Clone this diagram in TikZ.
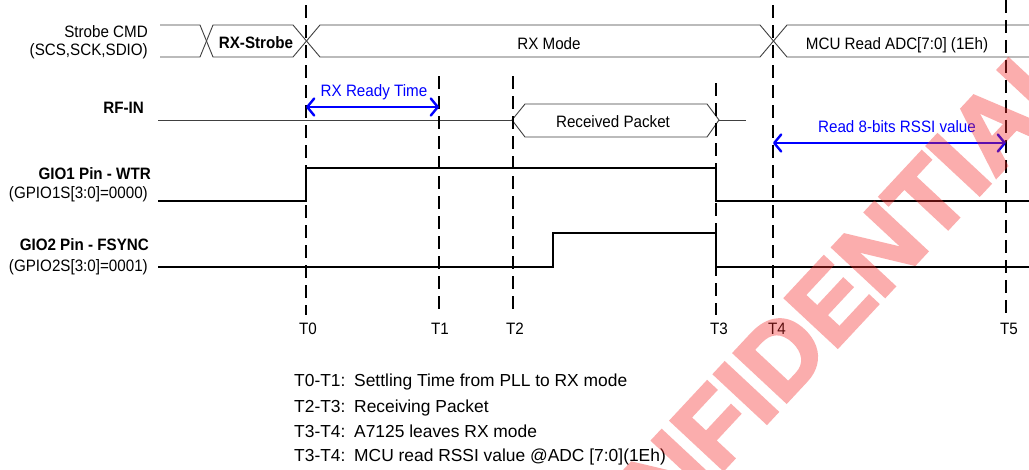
\documentclass[tikz,border=0pt]{standalone}
\usepackage{fontspec}
\setmainfont{Liberation Sans}[FakeStretch=0.92]
\newfontfamily\legendfont{Liberation Sans}
\newfontfamily\wmfont{Liberation Sans Bold}[FakeBold=3]
\usetikzlibrary{arrows.meta}
\definecolor{wmred}{RGB}{245,40,40}
\begin{document}
\begin{tikzpicture}[x=1pt,y=-1pt,
  bus/.style={draw=black!75, line width=0.9pt},
  sig/.style={draw=black, line width=2.6pt},
  tline/.style={draw=black, line width=2.2pt, dash pattern=on 13pt off 7pt},
  span/.style={draw=blue, line width=2.4pt,
    {Straight Barb[length=7pt,width=17pt,round]}-{Straight Barb[length=7pt,width=17pt,round]}},
  lbl/.style={font=\fontsize{16.5}{18}\selectfont, inner sep=0pt},
  blbl/.style={lbl, font=\fontsize{16.5}{18}\selectfont\bfseries},
  bluelbl/.style={lbl, text=blue},
  leg/.style={inner sep=0pt, anchor=base west, font=\legendfont\fontsize{17.4}{19}\selectfont},
  tlbl/.style={lbl, anchor=base}
]
\useasboundingbox (0,0) rectangle (1029,469);
\fill[white] (0,0) rectangle (1029,469);

% time coordinates
\coordinate (t0top) at (306,5);   \coordinate (t0bot) at (306,315);
\coordinate (t1top) at (439,76);  \coordinate (t1bot) at (439,315);
\coordinate (t2top) at (513,76);  \coordinate (t2bot) at (513,315);
\coordinate (t3top) at (716,83);  \coordinate (t3bot) at (716,315);
\coordinate (t4top) at (773,5);   \coordinate (t4bot) at (773,315);
\coordinate (t5top) at (1006,0);  \coordinate (t5bot) at (1006,315);

% Strobe CMD bus
\path[bus] (160,25) -- (200,25) -- (213,57) -- (293,57) -- (320,25) -- (760,25) -- (787,57) -- (1029,57);
\path[bus] (160,57) -- (200,57) -- (213,25) -- (293,25) -- (320,57) -- (760,57) -- (787,25) -- (1029,25);

% RF-IN
\path[bus] (158,120) -- (512,120);
\path[bus] (512,120) -- (525,104) -- (707,104) -- (719,120) -- (707,137) -- (525,137) -- cycle;
\path[bus] (719,120) -- (746,120);

% GIO signals
\path[sig] (158,201) -- (306,201) -- (306,168) -- (716,168) -- (716,201) -- (1029,201);
\path[sig] (158,267) -- (553,267) -- (553,233) -- (716,233) -- (716,267) -- (1029,267);

% dashed time lines
\foreach \t in {0,...,5} { \path[tline] (t\t top) -- (t\t bot); }

% spans
\coordinate (ra) at (306,107); \coordinate (rb) at (439,107);
\coordinate (sa) at (773,143); \coordinate (sb) at (1006,143);
\draw[span] (ra) -- (rb);
\draw[span] (sa) -- (sb);

% left labels
\node[lbl, anchor=base east] (l1) at (148,37) {Strobe CMD};
\node[lbl, anchor=base east] (l2) at (148,55) {(SCS,SCK,SDIO)};
\node[blbl, anchor=base east] (l3) at (144,113) {RF-IN};
\node[blbl, anchor=base east] (l4) at (151,179) {GIO1 Pin - WTR};
\node[lbl, anchor=base east] (l5) at (148,198) {(GPIO1S[3:0]=0000)};
\node[blbl, anchor=base east] (l6) at (149,250) {GIO2 Pin - FSYNC};
\node[lbl, anchor=base east] (l7) at (148,271) {(GPIO2S[3:0]=0001)};

% bus texts
\node[blbl, anchor=base] (s1) at (256,48) {RX-Strobe};
\node[lbl, anchor=base] (s2) at (549,49) {RX Mode};
\node[lbl, anchor=base] (s3) at (897,49) {MCU Read ADC[7:0] (1Eh)};
\node[lbl, anchor=base] (s4) at (613,127.5) {Received Packet};
\node[bluelbl, anchor=base] (s5) at (374,96.5) {RX Ready Time};
\node[bluelbl, anchor=base] (s6) at (897,132) {Read 8-bits RSSI value};

% time labels
\node[tlbl] (T0) at (308,334) {T0};
\node[tlbl] (T1) at (440,334) {T1};
\node[tlbl] (T2) at (515,334) {T2};
\node[tlbl] (T3) at (719,334) {T3};
\node[tlbl] (T4) at (777,334) {T4};
\node[tlbl] (T5) at (1009,334) {T5};

% legend
\node[leg] (g1a) at (294,386.5) {T0-T1:};
\node[leg] (g1b) at (354,386.5) {Settling Time from PLL to RX mode};
\node[leg] (g2a) at (294,412) {T2-T3:};
\node[leg] (g2b) at (354,412) {Receiving Packet};
\node[leg] (g3a) at (294,437) {T3-T4:};
\node[leg] (g3b) at (354,437) {A7125 leaves RX mode};
\node[leg] (g4a) at (294,461.5) {T3-T4:};
\node[leg] (g4b) at (354,461.5) {MCU read RSSI value @ADC [7:0](1Eh)};

% watermark
\begin{scope}[transparency group, opacity=0.38]
\clip (0,0) rectangle (1029,469);
\node[rotate=47, text=wmred, inner sep=0pt,
  font=\wmfont\fontsize{104}{104}\selectfont] (wm) at (799,336) {CONFIDENTIAL};
\end{scope}
\end{tikzpicture}
\end{document}
